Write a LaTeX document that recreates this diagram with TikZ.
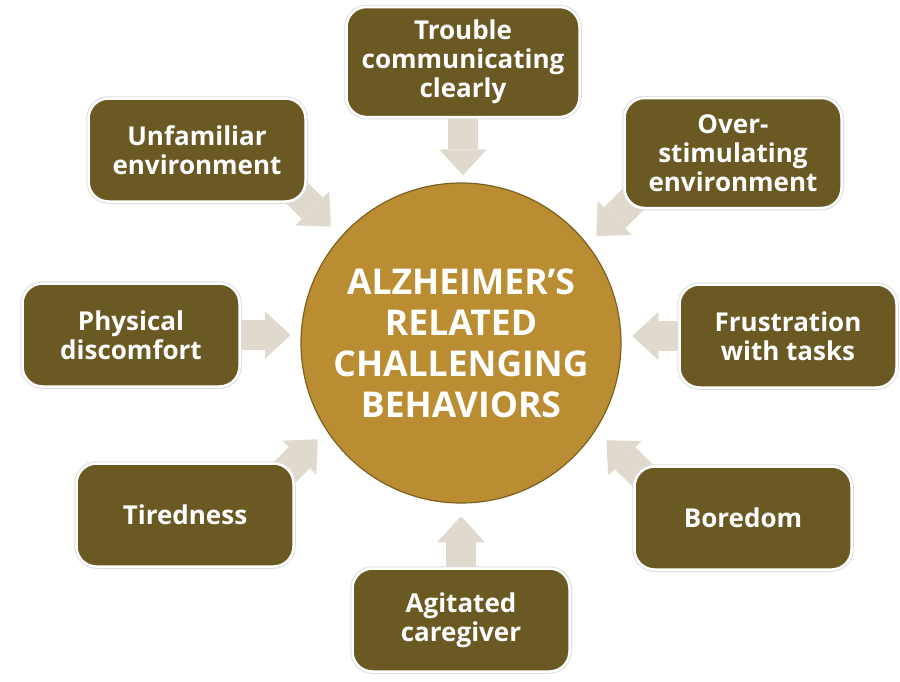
\documentclass[tikz,border=0pt]{standalone}
\usepackage{fontspec}
\setmainfont{Open Sans}
\usepackage{xcolor}
\definecolor{Brun}{RGB}{107,89,36}
\definecolor{Or}{RGB}{186,141,50}
\definecolor{OrFonce}{RGB}{122,97,32}
\definecolor{Beige}{RGB}{224,217,205}
\usetikzlibrary{arrows.meta,calc,positioning}
\pgfdeclarelayer{back}
\pgfsetlayers{back,main}

\begin{document}
\begin{tikzpicture}[x=1pt,y=-1pt,
    cause/.style={rectangle,rounded corners=20pt,fill=Brun,draw=white,line width=2.5pt,
        preaction={draw=black!13,line width=4.5pt},text=white,align=center,
        font=\bfseries\fontsize{26}{29}\selectfont,minimum width=217pt,minimum height=103pt,inner sep=2pt},
    core/.style={circle,fill=Or,draw=OrFonce,line width=1.2pt,minimum size=320pt,inner sep=0pt,
        text=white,align=center,font=\bfseries\fontsize{35.5}{41}\selectfont},
    feed/.style={draw=Beige,line width=30pt,-{Triangle[width=48pt,length=26pt,line width=0pt]}}]
    \useasboundingbox (0,0) rectangle (900,681);
    \node[core] (core) at (461,343) {ALZHEIMER’S\\RELATED\\CHALLENGING\\BEHAVIORS};
    % causes round the circle
    \node[cause,minimum width=233pt,minimum height=110pt] (talk) at (463,62) {Trouble\\communicating\\clearly};
    \node[cause,minimum height=110pt] (over) at (733,153) {Over-\\stimulating\\environment};
    \node[cause] (unf) at (197,150) {Unfamiliar\\environment};
    \node[cause] (phys) at (131,335) {Physical\\discomfort};
    \node[cause] (frus) at (788,336) {Frustration\\with tasks};
    \node[cause] (tired) at (185,515) {Tiredness};
    \node[cause] (bore) at (743,518) {Boredom};
    \node[cause] (agit) at (461,620) {Agitated\\caregiver};
    \begin{pgfonlayer}{back}
    \draw[feed] (talk.south) ++(0,-18) -- ++(0,75);
    \draw[feed] (agit.north) ++(0,18) -- ++(0,-69);
    \draw[feed] (phys.east) ++(-18,0) -- ++(68,0);
    \draw[feed] (frus.west) ++(18,0) -- ++(-64,0);
    \draw[feed] (unf.south east) ++(-25,-25) -- ++(49,49);
    \draw[feed] (over.south west) ++(25,-25) -- ++(-52,52);
    \draw[feed] (tired.north east) ++(-25,25) -- ++(48,-48);
    \draw[feed] (bore.north west) ++(25,25) -- ++(-52,-50);
    \end{pgfonlayer}
\end{tikzpicture}
\end{document}
